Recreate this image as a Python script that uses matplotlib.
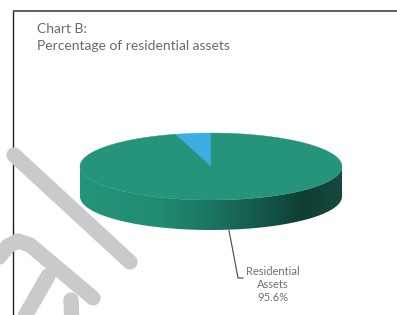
import matplotlib
matplotlib.use('Agg')
import numpy as np
import matplotlib.pyplot as plt
from matplotlib.patches import Polygon
from matplotlib.colors import LinearSegmentedColormap

# data
labels = ['Other', 'Residential Assets']
values = [4.4, 95.6]
colors = ['#3daee3', '#25947a']
title_lines = ['Chart B:', 'Percentage of residential assets']

W, H = 397, 315
fig = plt.figure(figsize=(W / 100, H / 100), dpi=100)
ax = fig.add_axes([0, 0, 1, 1])
ax.set_xlim(0, W)
ax.set_ylim(H, 0)
ax.axis('off')

# frame (top and left)
ax.plot([12.5, W], [10.5, 10.5], color='#333333', lw=1.1, solid_capstyle='butt')
ax.plot([12.5, 12.5], [10.5, H], color='#222222', lw=1.0, solid_capstyle='butt')

# titles
ax.text(37, 29, title_lines[0], fontsize=10, family='Lato',
        color='#6a6a6a', va='center', ha='left')
ax.text(37, 46.5, title_lines[1], fontsize=10, family='Lato',
        color='#6a6a6a', va='center', ha='left')

# 3d pie geometry
cx, cy, rx, ry, depth = 211, 166.5, 131, 33.5, 30


def ell(t):
    t = np.radians(t)
    return cx + rx * np.cos(t), cy - ry * np.sin(t)


# side (front half) with gradient
t = np.linspace(180, 360, 200)
xs, ys = ell(t)
side_pts = np.column_stack([np.r_[xs, xs[::-1]], np.r_[ys, ys[::-1] + depth]])
side = Polygon(side_pts, closed=True, facecolor='none', edgecolor='none')
ax.add_patch(side)
cmap = LinearSegmentedColormap.from_list('side', [
    (0.0, '#23957a'), (0.3, '#218b71'), (0.5, '#1b7560'),
    (0.7, '#14574a'), (0.85, '#0f3e33'), (1.0, '#164a3e')])
grad = np.linspace(0, 1, 256).reshape(1, -1)
img = ax.imshow(grad, cmap=cmap, aspect='auto',
                extent=[cx - rx, cx + rx, cy + ry + depth, cy - 2], zorder=2)
img.set_clip_path(side)

# top face wedges
start = 90.0
mids = []
for v, c in zip(values, colors):
    span = v / sum(values) * 360
    tt = np.linspace(start, start + span, 200)
    wx, wy = ell(tt)
    pts = np.column_stack([np.r_[cx, wx], np.r_[cy, wy]])
    ax.add_patch(Polygon(pts, closed=True, facecolor=c, edgecolor=c, lw=0.3, zorder=3))
    mids.append(start + span / 2)
    start += span

# leader for residential slice
mx, my = ell(mids[1])
my = my + depth
ax.plot([mx, mx + 9, mx + 14], [my + 1, 278, 278], color='#444444', lw=0.8, zorder=4)
ax.text(273, 284.5, 'Residential\nAssets\n%.1f%%' % values[1], fontsize=8,
        family='Lato', color='#707070', ha='center', va='center',
        linespacing=1.25, zorder=4)

# watermark strokes
wm = dict(color='#c9cacc', lw=11, solid_capstyle='round', solid_joinstyle='round', zorder=5)
ax.plot([14, 130], [155, 262], **wm)
ax.plot([-5, 8, 18, 30, 93], [262, 246, 241, 245, 298], **wm)
ax.plot([20, 48], [325, 276], **wm)
ax.plot([71, 72], [300, 325], **wm)

fig.savefig('out.png', dpi=100)
